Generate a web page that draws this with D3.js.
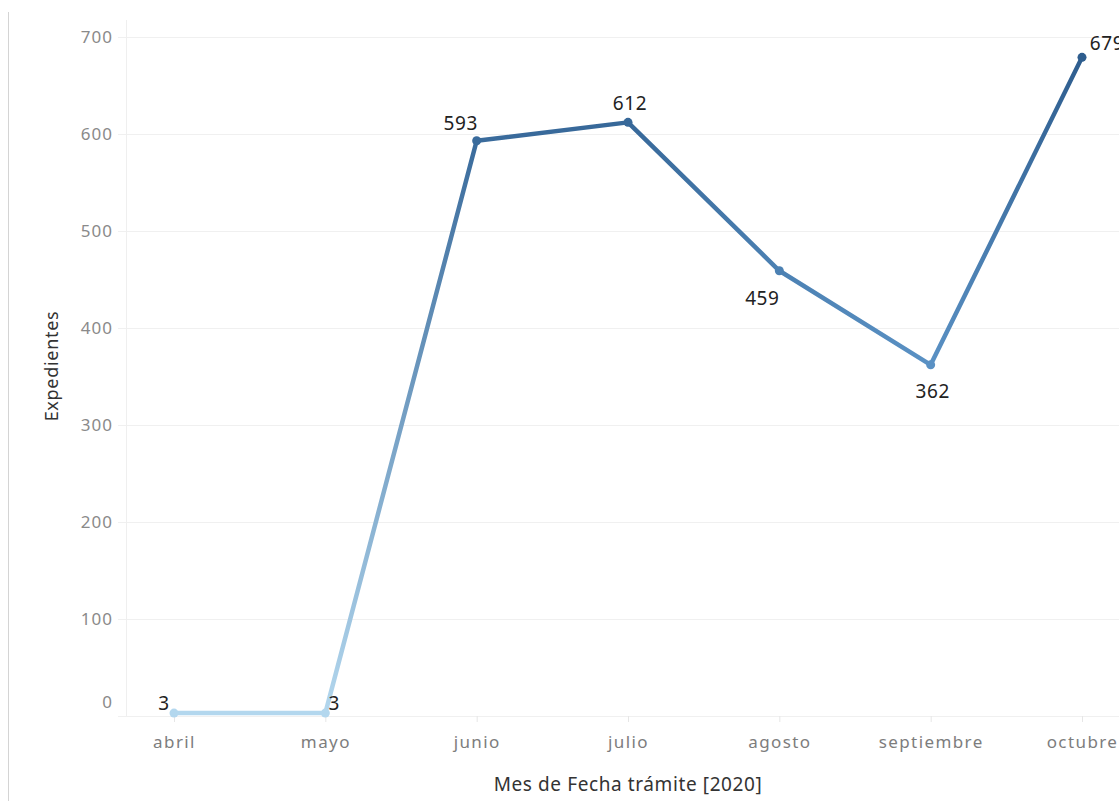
<!DOCTYPE html>
<meta charset="utf-8">
<style>
body { margin: 0; background: #fff; }
text { font-family: "Noto Sans", sans-serif; }
.grid line { stroke: #f0f0f0; shape-rendering: crispEdges; }
.grid path { stroke-width: 0; }
</style>
<body>
<script src="https://d3js.org/d3.v7.min.js"></script>
<script>
// data
var months = ["abril", "mayo", "junio", "julio", "agosto", "septiembre", "octubre"];
var expedientes = [3, 3, 593, 612, 459, 362, 679];
var yTicks = [0, 100, 200, 300, 400, 500, 600, 700];

// label placement [dx, dy] relative to the point
var labelOffsets = [[-10, -3], [9, -3], [-16, -11], [2, -12], [-17, 34], [2, 33], [25, -7]];

var W = 1119, H = 801;

var svg = d3.select("body").append("svg")
    .attr("width", W)
    .attr("height", H);

var x = d3.scalePoint().domain(months).range([174, 1082]);
var y = d3.scaleLinear().domain([0, 700]).range([716, 37]);

var color = d3.scaleLinear()
    .domain([0, 360, 700])
    .range(["#b4d8ee", "#5a91c4", "#2b5a8a"])
    .interpolate(d3.interpolateRgb);

// left border
svg.append("line")
    .attr("x1", 8.5).attr("x2", 8.5)
    .attr("y1", 12).attr("y2", H)
    .attr("stroke", "#d4d4d4");

// gridlines
svg.append("g")
    .attr("class", "grid")
    .attr("transform", "translate(118,0)")
    .call(d3.axisRight(y).tickValues(yTicks).tickSize(W - 118).tickFormat(""));

// y axis line
svg.append("line")
    .attr("x1", 126.5).attr("x2", 126.5)
    .attr("y1", 20).attr("y2", 716)
    .attr("stroke", "#efefef");

// y tick labels
var yAxis = svg.append("g")
    .attr("transform", "translate(113,0)")
    .call(d3.axisLeft(y).tickValues(yTicks).tickSize(0).tickPadding(0));
yAxis.select(".domain").remove();
yAxis.selectAll("text")
    .style("font-size", "17px")
    .style("letter-spacing", "1px")
    .attr("fill", "#8a8a8a")
    .attr("dy", function(d) { return d === 0 ? "-0.5em" : "0.35em"; });

// x axis
var xAxis = svg.append("g")
    .attr("transform", "translate(0,716)")
    .call(d3.axisBottom(x).tickSize(6).tickPadding(14));
xAxis.select(".domain").remove();
xAxis.selectAll("line").attr("stroke", "#e6e6e6");
xAxis.selectAll("text")
    .style("font-size", "17px")
    .style("letter-spacing", "1.4px")
    .attr("fill", "#7d7d7d");

// axis titles
svg.append("text")
    .attr("x", 628).attr("y", 791)
    .attr("text-anchor", "middle")
    .style("font-size", "19px")
    .style("letter-spacing", "0.6px")
    .attr("fill", "#333")
    .text("Mes de Fecha trámite [2020]");

svg.append("text")
    .attr("transform", "translate(58,366) rotate(-90)")
    .attr("text-anchor", "middle")
    .style("font-size", "18px")
    .style("letter-spacing", "0.7px")
    .attr("fill", "#333")
    .text("Expedientes");

// line segments with gradient by value
var defs = svg.append("defs");
var pts = months.map(function(m, i) { return {m: m, v: expedientes[i]}; });

for (var i = 0; i < pts.length - 1; i++) {
  var a = pts[i], b = pts[i + 1];
  var g = defs.append("linearGradient")
      .attr("id", "seg" + i)
      .attr("gradientUnits", "userSpaceOnUse")
      .attr("x1", x(a.m)).attr("y1", y(a.v))
      .attr("x2", x(b.m)).attr("y2", y(b.v));
  g.append("stop").attr("offset", "0%").attr("stop-color", color(a.v));
  g.append("stop").attr("offset", "100%").attr("stop-color", color(b.v));

  svg.append("line")
      .attr("x1", x(a.m)).attr("y1", y(a.v))
      .attr("x2", x(b.m)).attr("y2", y(b.v))
      .attr("stroke", a.v === b.v ? color(a.v) : "url(#seg" + i + ")")
      .attr("stroke-width", 4.5)
      .attr("stroke-linecap", "round");
}

// points
svg.selectAll("circle.pt")
    .data(pts)
  .enter().append("circle")
    .attr("class", "pt")
    .attr("cx", function(d) { return x(d.m); })
    .attr("cy", function(d) { return y(d.v); })
    .attr("r", 4.5)
    .attr("fill", function(d) { return color(d.v); });

// value labels
svg.selectAll("text.lbl")
    .data(pts)
  .enter().append("text")
    .attr("class", "lbl")
    .attr("x", function(d, i) { return x(d.m) + labelOffsets[i][0]; })
    .attr("y", function(d, i) { return y(d.v) + labelOffsets[i][1]; })
    .attr("text-anchor", "middle")
    .style("font-size", "19px")
    .style("letter-spacing", "0.6px")
    .attr("fill", "#222")
    .text(function(d) { return d.v; });
</script>
</body>
